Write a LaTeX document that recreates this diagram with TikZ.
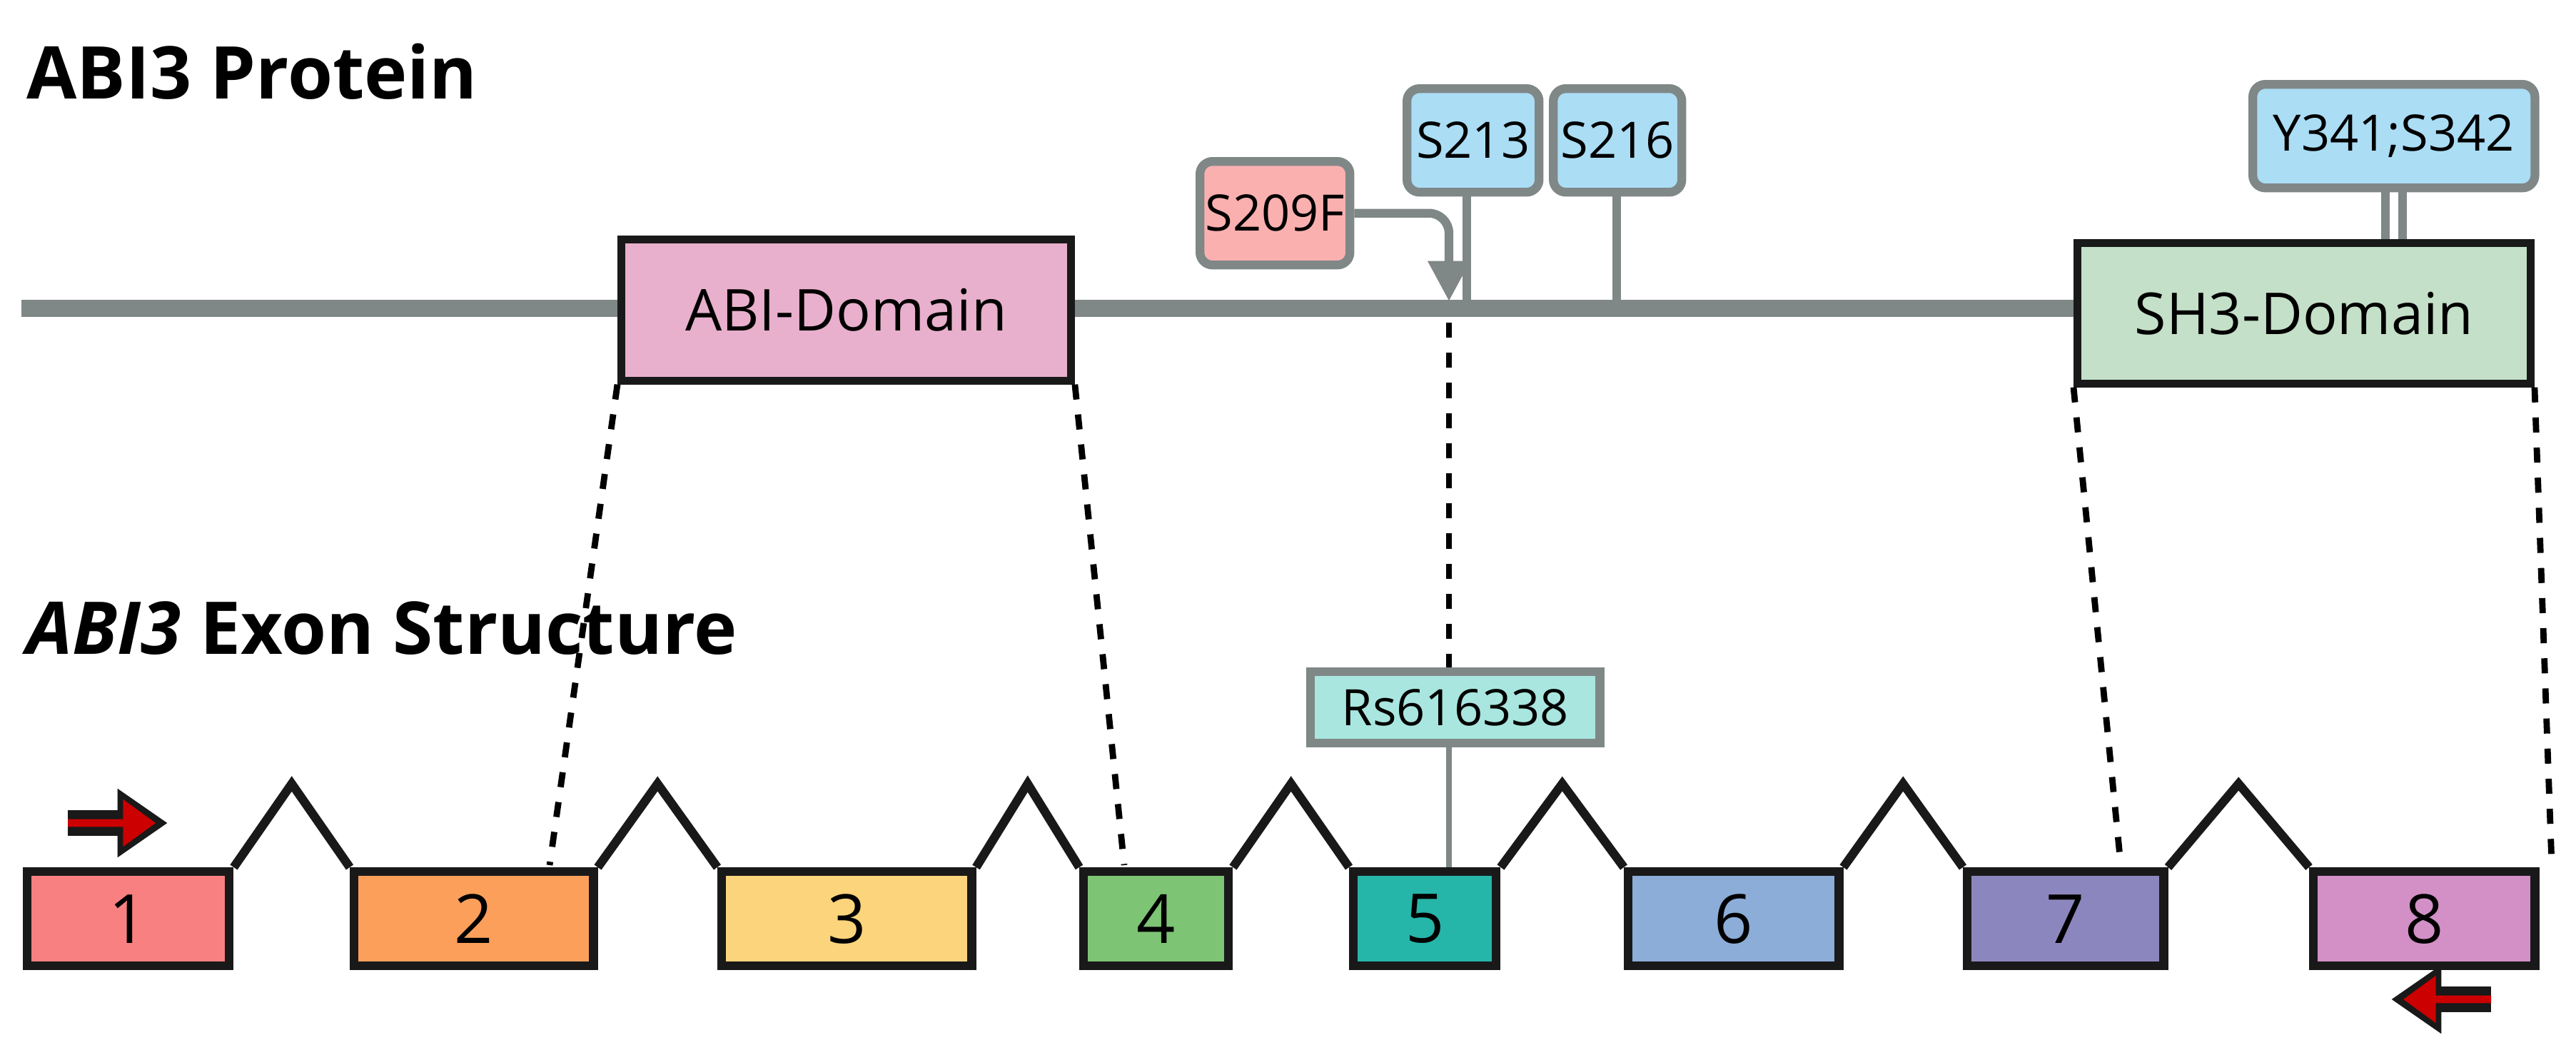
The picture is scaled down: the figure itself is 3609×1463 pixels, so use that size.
\documentclass[tikz,border=0pt]{standalone}
\usepackage{fontspec}
\setmainfont{Open Sans}
\usetikzlibrary{positioning,arrows.meta,calc}
\definecolor{lineg}{HTML}{7F8787}
\definecolor{exA}{HTML}{F88080}
\definecolor{exB}{HTML}{FC9F5B}
\definecolor{exC}{HTML}{FCD47C}
\definecolor{exD}{HTML}{7DC475}
\definecolor{exE}{HTML}{26B5A9}
\definecolor{exF}{HTML}{8BADD8}
\definecolor{exG}{HTML}{8C86BE}
\definecolor{exH}{HTML}{D290C6}
\definecolor{abicol}{HTML}{E8B0CC}
\definecolor{shcol}{HTML}{C4E0C8}
\definecolor{sitecol}{HTML}{ABDDF5}
\definecolor{mutcol}{HTML}{FBB0B0}
\definecolor{rscol}{HTML}{A9E6DF}
\begin{document}
\begin{tikzpicture}
	[
	x=0.01cm,y=-0.01cm,
	exon/.style={draw=black!90,line width=3.5pt,inner sep=0,anchor=north west,font=\fontsize{27}{30}\selectfont},
	protdomain/.style={draw=black!90,line width=3pt,inner sep=0,anchor=north west,font=\fontsize{23}{26}\selectfont},
	site/.style={draw=lineg,line width=3.5pt,rounded corners=5pt,inner sep=0,anchor=north west,fill=sitecol,font=\fontsize{20}{24}\selectfont},
	intron/.style={draw=black!90,line width=3.5pt,line join=miter},
	map/.style={draw=black,line width=2.5pt,dash pattern=on 6pt off 6pt},
	stick/.style={draw=lineg,line width=3.5pt}
	]
	\useasboundingbox (0,0) rectangle (3609,1463);
	
	% Titles
	\node[anchor=west,font=\fontsize{29}{32}\selectfont\bfseries] (tprot) at (25,100) {ABI3 Protein};
	\node[anchor=west,font=\fontsize{29}{32}\selectfont\bfseries] (texon) at (25,880) {\textit{ABI3} Exon Structure};
	
	% Protein backbone
	\coordinate (pl) at (30,432);
	\coordinate (pr) at (3545,432);
	\draw[lineg,line width=7pt] (pl) -- (pr);
	
	% Domains
	\node[protdomain,fill=abicol,minimum width=6.3cm,minimum height=1.98cm] (abi) at (865,330) {ABI-Domain};
	\node[protdomain,fill=shcol,minimum width=6.35cm,minimum height=1.97cm] (sh3) at (2905,335) {SH3-Domain};
	
	% Phosphosites
	\node[site,minimum width=1.85cm,minimum height=1.45cm] (s213) at (1965,118) {S213};
	\node[site,minimum width=1.8cm,minimum height=1.45cm] (s216) at (2170,118) {S216};
	\node[site,minimum width=3.95cm,minimum height=1.45cm] (y341) at (3150,112) {Y341;S342};
	\node[site,fill=mutcol,minimum width=2.1cm,minimum height=1.45cm] (s209) at (1675,220) {S209F};
	\coordinate (p213) at (2055,422);
	\coordinate (p216) at (2265,422);
	\coordinate (p209) at (2030,422);
	\draw[stick] (s213.south -| p213) -- (p213);
	\draw[stick] (s216.south -| p216) -- (p216);
	\draw[stick] ([xshift=-0.12cm]y341.south) -- ([xshift=-0.12cm]y341.south |- sh3.north);
	\draw[stick] ([xshift=0.12cm]y341.south) -- ([xshift=0.12cm]y341.south |- sh3.north);
	\draw[stick,rounded corners=8pt,-{Triangle[length=16pt,width=16pt]}] (s209.east) -- (s209.east -| p209) -- (p209);
	
	% Exons
	\foreach \n/\x/\w/\c in {1/32/2.83/exA,2/490/3.35/exB,3/1005/3.5/exC,4/1512/2.03/exD,
		5/1890/2.0/exE,6/2275/2.95/exF,7/2750/2.75/exG,8/3235/3.1/exH}
		\node[exon,fill=\c,minimum width=\w cm,minimum height=1.32cm] (e\n) at (\x,1215) {\n};
	\foreach \a/\b in {1/2,2/3,3/4,4/5,5/6,6/7,7/8}
		\draw[intron] (e\a.north east) -- ($(e\a.north east)!0.5!(e\b.north west)+(0,-117)$) -- (e\b.north west);
	
	% SNP
	\node[draw=lineg,line width=3.5pt,fill=rscol,inner sep=0,minimum width=4.05cm,minimum height=1cm,
		anchor=north west,font=\fontsize{20}{24}\selectfont] (rs) at (1830,935) {Rs616338};
	\draw[lineg,line width=2.5pt] (rs.south -| p209) -- (e5.north -| p209);
	
	% Mapping lines
	\draw[map] ([yshift=-0.3cm]p209) -- (rs.north -| p209);
	\draw[map] (abi.south west) -- (770,1212);
	\draw[map] (abi.south east) -- (1575,1212);
	\draw[map] (sh3.south west) -- (2970,1200);
	\draw[map] (sh3.south east) -- (3575,1212);
	
	% Primers
	\coordinate (f1) at (95,1153);
	\coordinate (f2) at (235,1153);
	\coordinate (r1) at (3490,1400);
	\coordinate (r2) at (3350,1400);
	\foreach \s/\t in {f1/f2,r1/r2}{
		\draw[black!90,line width=10pt,-{Triangle[length=20pt,width=26pt]}] (\s) -- (\t);
		\draw[red!80!black,line width=3pt,-{Triangle[length=13pt,width=18pt]}] (\s) -- ($(\s)!0.88!(\t)$);}
\end{tikzpicture}
\end{document}
